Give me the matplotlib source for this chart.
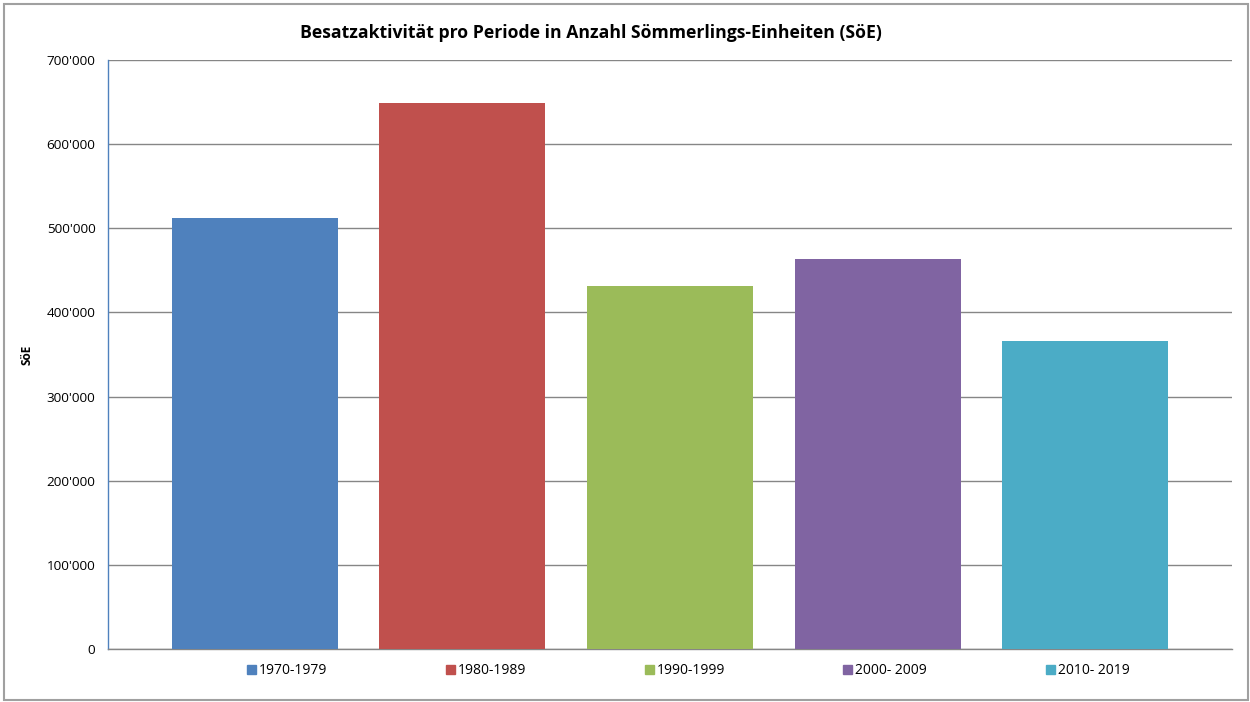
import matplotlib.pyplot as plt
from matplotlib.ticker import FuncFormatter, MultipleLocator
from matplotlib.patches import Rectangle

# Perioden und SöE-Werte
perioden = ["1970-1979", "1980-1989", "1990-1999", "2000- 2009", "2010- 2019"]
soe_werte = [512000, 649000, 432000, 463000, 366000]
farben = ["#4f81bd", "#c0504d", "#9bbb59", "#8064a2", "#4bacc6"]

plt.rcParams["font.family"] = ["Open Sans", "DejaVu Sans"]

fig = plt.figure(figsize=(12.5, 7.02), dpi=100)
W, H = 1250, 702
ax = fig.add_axes([108 / W, 1 - 649 / H, (1232 - 108) / W, (649 - 60) / H])

x = list(range(len(perioden)))
ax.bar(x, soe_werte, width=0.8, color=farben, zorder=3)

ax.set_xlim(-0.707, len(perioden) - 1 + 0.707)
ax.set_ylim(0, 700000)
ax.yaxis.set_major_locator(MultipleLocator(100000))
ax.yaxis.set_major_formatter(FuncFormatter(lambda v, p: f"{int(v):,}".replace(",", "'")))
ax.set_xticks([])
ax.grid(axis="y", color="#868686", linewidth=1.0, zorder=0)
ax.tick_params(axis="y", length=0, labelsize=9.7, pad=9, colors="#000000")

for s in ["top", "right"]:
    ax.spines[s].set_visible(False)
ax.spines["left"].set_color("#4f81bd")
ax.spines["left"].set_linewidth(1.0)
ax.spines["bottom"].set_color("#868686")
ax.spines["bottom"].set_linewidth(1.0)

ax.set_ylabel("SöE", fontsize=8.5, fontweight="bold")
ax.yaxis.set_label_coords((33 - 108) / 1124, 0.5)

fig.text(0.473, 1 - 33 / H, "Besatzaktivität pro Periode in Anzahl Sömmerlings-Einheiten (SöE)",
         ha="center", va="center", fontsize=12.7, fontweight="bold")

handles = [Rectangle((0, 0), 1, 1, color=c) for c in farben]
fig.legend(handles, perioden, loc="center", bbox_to_anchor=(688 / W, 1 - 671 / H),
           ncol=5, frameon=False, fontsize=10, handlelength=0.65, handleheight=0.65,
           handletextpad=0.2, columnspacing=8.55)

# Rahmen um die Grafik
fig.patches.append(Rectangle((4 / W, 2 / H), 1244 / W, 696 / H, transform=fig.transFigure,
                             fill=False, edgecolor="#a0a0a0", linewidth=1.5))

fig.savefig("out.png", dpi=100)
